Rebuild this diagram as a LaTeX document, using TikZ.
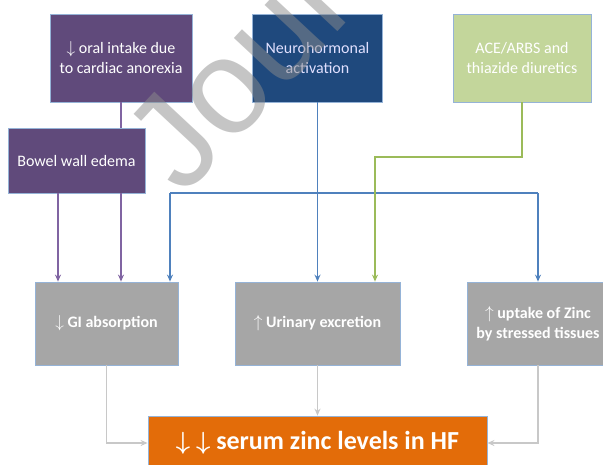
\documentclass[tikz,border=0pt]{standalone}
\usepackage{fontspec}
\setmainfont{Carlito}
\newfontfamily\markfont{Liberation Sans}
\usetikzlibrary{arrows.meta}

\definecolor{boxpurple}{HTML}{604A7B}
\definecolor{boxblue}{HTML}{1F497D}
\definecolor{boxgreen}{HTML}{C3D69B}
\definecolor{boxgray}{HTML}{A6A6A6}
\definecolor{boxorange}{HTML}{E36C09}
\definecolor{edgeblue}{HTML}{95B3D7}
\definecolor{linepurple}{HTML}{8064A2}
\definecolor{lineblue}{HTML}{4F81BD}
\definecolor{linegreen}{HTML}{9BBB59}
\definecolor{linegray}{HTML}{C8C8C8}

\tikzset{
  box/.style={draw=edgeblue, line width=0.8pt, text=white, align=center,
    inner sep=0pt, font=\fontsize{16}{20}\selectfont},
  link/.style={line width=1.8pt},
  tip/.style={-{Stealth[length=7pt, width=6pt]}}
}

\begin{document}
\begin{tikzpicture}[x=1pt, y=-1pt]
        \clip (0,0) rectangle (603,464);
        \useasboundingbox (0,0) rectangle (603,464);

        % Causes
        \node[box, fill=boxpurple, minimum width=142pt, minimum height=88pt] (oral) at (121,58) {$\downarrow$ oral intake due\\to cardiac anorexia};
        \node[box, fill=boxblue, text=white!88!blue, minimum width=130pt, minimum height=88pt] (neuro) at (317.5,58) {Neurohormonal\\activation};
        \node[box, fill=boxgreen, minimum width=138pt, minimum height=88pt] (ace) at (522,58) {ACE/ARBS and\\thiazide diuretics};
        \node[box, fill=boxpurple, minimum width=137pt, minimum height=65pt] (bowel) at (76.5,160.5) {Bowel wall edema};

        % Mechanisms
        \node[box, fill=boxgray, font=\bfseries\fontsize{16}{20}\selectfont, minimum width=143pt, minimum height=83pt] (gi) at (106.5,323.5) {$\downarrow$ GI absorption};
        \node[box, fill=boxgray, font=\bfseries\fontsize{16}{20}\selectfont, minimum width=165pt, minimum height=83pt] (urine) at (317.5,323.5) {$\uparrow$ Urinary excretion};
        \node[box, fill=boxgray, font=\bfseries\fontsize{16}{20}\selectfont, minimum width=141pt, minimum height=83pt] (uptake) at (538,323.5) {$\uparrow$ uptake of Zinc\\by stressed tissues};

        % Result
        \node[box, fill=boxorange, font=\bfseries\boldmath\fontsize{26}{30}\selectfont, minimum width=339pt, minimum height=54pt] (zinc) at (317.5,443) {$\downarrow$ $\downarrow$ serum zinc levels in HF};

        % Purple links
        \draw[link, linepurple] (oral) -- (oral |- bowel.north);
        \coordinate (bw) at (58,193);
        \draw[link, linepurple, tip] (bw) -- (bw |- gi.north);
        \draw[link, linepurple, tip] (oral |- bowel.south) -- (oral |- gi.north);

        % Blue links
        \coordinate (split) at (317.5,193);
        \coordinate (bl) at (170,193);
        \coordinate (br) at (538,193);
        \draw[link, lineblue, tip] (neuro) -- (urine);
        \draw[link, lineblue] (bl) -- (br);
        \draw[link, lineblue, tip] (bl) -- (bl |- gi.north);
        \draw[link, lineblue, tip] (br) -- (br |- uptake.north);

        % Green link
        \coordinate (gr) at (375,157);
        \draw[link, linegreen, tip] (ace.south) |- (gr) -- (gr |- urine.north);

        % Gray links
        \draw[link, linegray, tip] (gi.south) |- (zinc.west);
        \draw[link, linegray, tip] (urine) -- (zinc);
        \draw[link, linegray, tip] (uptake.south) |- (zinc.east);

        % Watermark
        \node[rotate=47, anchor=base west, inner sep=0pt, text=black!45, text opacity=0.5, font=\markfont\fontsize{135}{135}\selectfont] (mark) at (183,198) {Journal Pre-proof};
\end{tikzpicture}
\end{document}
